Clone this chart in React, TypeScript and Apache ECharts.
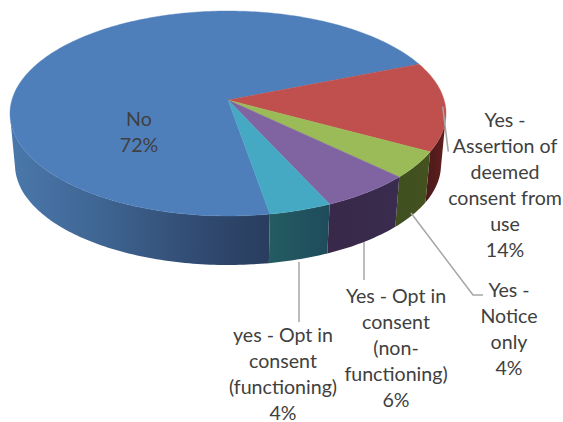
import React, { useEffect, useRef } from "react";
import * as echarts from "echarts";

const CATEGORIES = [
  "No",
  "Yes -\nAssertion of\ndeemed\nconsent from\nuse",
  "Yes -\nNotice\nonly",
  "Yes - Opt in\nconsent\n(non-\nfunctioning)",
  "yes - Opt in\nconsent\n(functioning)",
];
const VALUES = [71.6, 14.1, 4.2, 6.0, 4.1];
const TOP_COLORS = ["#4f7fbb", "#bf504d", "#9bbb59", "#8064a2", "#46a9c3"];
const WALL_STOPS: [number, string][][] = [
  [[0, "#4a78ab"], [0.35, "#3f6592"], [0.75, "#30496f"], [1, "#293d5e"]],
  [[0, "#4a1a1a"], [1, "#611f1e"]],
  [[0, "#3f4f20"], [1, "#44521f"]],
  [[0, "#38284a"], [1, "#3a2c4e"]],
  [[0, "#245c62"], [1, "#1e4b5b"]],
];

// Projection of the pie disc (perspective tilted ellipse)
const CX = 228, CY = 100, K = -0.1317, A = 100.7, B = 216.1;
const DEPTH = 51.7, TAPER = 0.977;
const START_DEG = 80.3;
const WALL_MIN = 9, WALL_MAX = 171;

const total = VALUES.reduce((a, b) => a + b, 0);
const spans = (() => {
  let a = START_DEG;
  return VALUES.map((v) => {
    const s = a;
    a += (v / total) * 360;
    return [s, a];
  });
})();

function project(deg: number, bottom: boolean): number[] {
  const t = (deg * Math.PI) / 180;
  const u = Math.cos(t), v = Math.sin(t);
  const d = 1 + K * v;
  const s = bottom ? TAPER : 1;
  return [CX + (s * B * u) / d, CY + (bottom ? DEPTH : 0) + (s * A * v) / d];
}

function arc(a0: number, a1: number, bottom: boolean): number[][] {
  const n = Math.max(2, Math.ceil(Math.abs(a1 - a0)));
  const pts: number[][] = [];
  for (let i = 0; i <= n; i++) pts.push(project(a0 + ((a1 - a0) * i) / n, bottom));
  return pts;
}

function wallRange(i: number): number[][] {
  const [s, e] = spans[i];
  const out: number[][] = [];
  for (const off of [0, 360, -360]) {
    const a0 = Math.max(s + off, WALL_MIN);
    const a1 = Math.min(e + off, WALL_MAX);
    if (a1 > a0) out.push([a0, a1]);
  }
  return out;
}

const LABEL_LAYOUT = [
  { x: 139, y: 105 },
  { x: 505, y: 106 },
  { x: 509, y: 276 },
  { x: 396, y: 282 },
  { x: 283, y: 321 },
];
const LEADERS = [
  [[442.7, 106.7], [448.3, 151.7]],
  [[411, 213], [473, 295], [483, 295]],
  [[364, 242], [364, 280]],
  [[299, 262], [299, 322]],
];

export default function App() {
  const ref = useRef<HTMLDivElement>(null);
  useEffect(() => {
    const chart = echarts.init(ref.current!, undefined, { renderer: "svg" });
    const data = VALUES.map((v, i) => ({ name: CATEGORIES[i], value: [v, i] }));
    chart.setOption({
      animation: false,
      backgroundColor: "#ffffff",
      series: [
        {
          type: "custom",
          coordinateSystem: "none",
          silent: true,
          z: 1,
          data,
          renderItem: (_p: any, api: any) => {
            const i = api.value(1);
            const children = wallRange(i).map(([a0, a1]) => {
              const top = arc(a0, a1, false);
              const bot = arc(a1, a0, true);
              const xs = top.concat(bot).map((p) => p[0]);
              const fill = new echarts.graphic.LinearGradient(
                Math.min(...xs), 0, Math.max(...xs), 0,
                WALL_STOPS[i].map(([offset, color]) => ({ offset, color })),
                true
              );
              return {
                type: "polygon",
                shape: { points: top.concat(bot) },
                style: { fill },
              };
            });
            return { type: "group", children };
          },
        },
        {
          type: "custom",
          coordinateSystem: "none",
          silent: true,
          z: 2,
          data,
          renderItem: (_p: any, api: any) => {
            const i = api.value(1);
            const [s, e] = spans[i];
            return {
              type: "polygon",
              shape: { points: [[CX, CY], ...arc(s, e, false)] },
              style: { fill: TOP_COLORS[i], stroke: TOP_COLORS[i], lineWidth: 0.4 },
            };
          },
        },
      ],
      graphic: {
        elements: [
          ...LEADERS.map((pts) => ({
            type: "polyline",
            z: 3,
            shape: { points: pts },
            style: { stroke: "#a6a6a6", lineWidth: 1.5, fill: "none" },
          })),
          ...CATEGORIES.map((c, i) => ({
            type: "text",
            z: 4,
            x: LABEL_LAYOUT[i].x,
            y: LABEL_LAYOUT[i].y,
            style: {
              text: `${c}\n${Math.round((VALUES[i] / total) * 100)}%`,
              fill: "#404040",
              font: '19.6px Lato, "Noto Sans", sans-serif',
              lineHeight: 26,
              align: "center",
              verticalAlign: "top",
            },
          })),
        ],
      },
    });
    return () => chart.dispose();
  }, []);
  return (
    <div
      ref={ref}
      style={{ position: "fixed", left: 0, top: 0, width: 563, height: 422 }}
    />
  );
}
